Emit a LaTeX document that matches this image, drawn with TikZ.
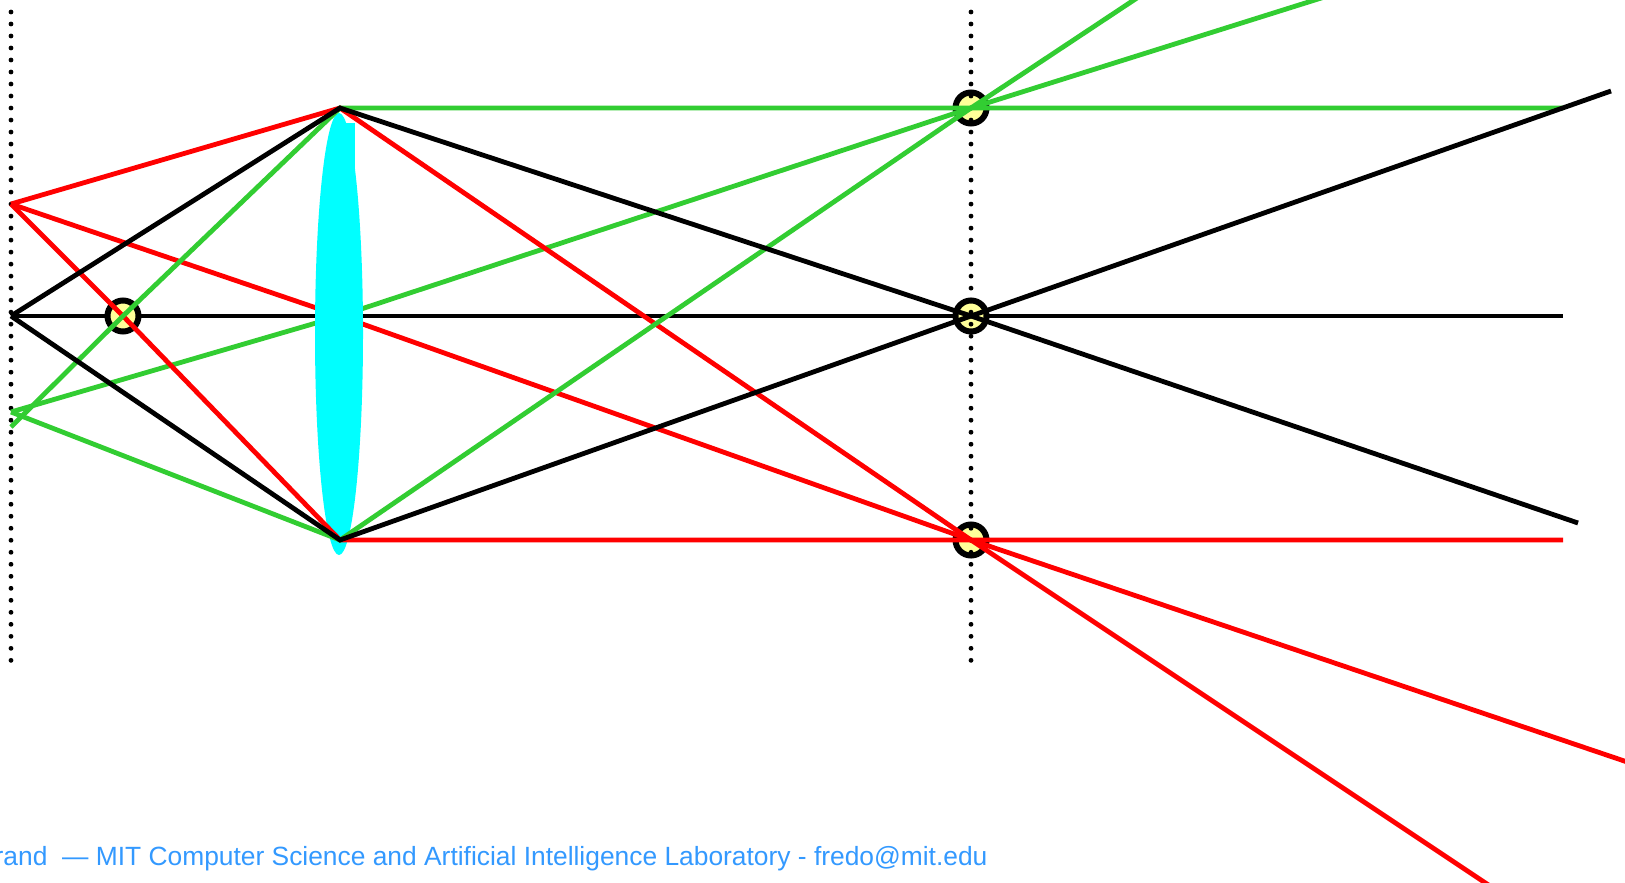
\documentclass[tikz,border=0pt]{standalone}
\usepackage{fontspec}
\setmainfont{Liberation Sans}
\usetikzlibrary{arrows}
\definecolor{raygreen}{RGB}{50,205,50}
\definecolor{lenscyan}{RGB}{0,255,255}
\definecolor{focusyellow}{RGB}{255,255,153}
\definecolor{footblue}{RGB}{51,153,255}

\begin{document}
\begin{tikzpicture}[x=0.01cm,y=-0.01cm,
  ray/.style={line width=0.048cm},
  plane/.style={line width=0.048cm,line cap=round,dash pattern=on 0pt off 0.12cm},
  focus/.style={draw=black,fill=focusyellow,line width=0.06cm}]
  \useasboundingbox (0,0) rectangle (1625,882);
  \clip (0,0) rectangle (1625,882);

  \coordinate (O) at (11,316);
  \coordinate (objR) at (11,204);
  \coordinate (objG) at (11,412);
  \coordinate (objGb) at (11,427);
  \coordinate (F) at (123,316);
  \coordinate (T) at (340,108);
  \coordinate (C) at (340,316);
  \coordinate (B) at (340,540);
  \coordinate (imgG) at (971,108);
  \coordinate (imgC) at (971,316);
  \coordinate (imgR) at (971,540);
  \coordinate (axisEnd) at (1563,316);
  \coordinate (greenEnd) at (1563,108);
  \coordinate (redEnd) at (1563,540);
  \coordinate (greenEndA) at (1143,-6);
  \coordinate (greenEndB) at (1334,-6);
  \coordinate (redEndA) at (1496,890);
  \coordinate (redEndB) at (1645,768);
  \coordinate (blackEndA) at (1578,523);
  \coordinate (blackEndB) at (1611,91);

  \draw[ray] (O) -- (axisEnd);
  \foreach \p in {F,imgG,imgC,imgR}
    \draw[focus] (\p) circle (15.5);
  \foreach \x in {11,971}
    \draw[plane] (\x,12) -- (\x,662);

  \draw[ray,red] (objR) -- (C) -- (imgR) -- (redEndB);
  \draw[ray,raygreen] (objG) -- (C) -- (imgG) -- (greenEndB);

  % lens
  \fill[lenscyan] (339,334) ellipse (24 and 221);
  \fill[lenscyan] (339,123) rectangle (355,200);

  \draw[ray,red] (objR) -- (T) -- (imgR) -- (redEndA);
  \draw[ray,red] (objR) -- (F) -- (B) -- (redEnd);
  \draw[ray,raygreen] (objGb) -- (F) -- (T) -- (greenEnd);
  \draw[ray,raygreen] (objG) -- (B) -- (imgG) -- (greenEndA);
  \draw[ray] (O) -- (T) -- (imgC) -- (blackEndA);
  \draw[ray] (O) -- (B) -- (imgC) -- (blackEndB);

  \node[anchor=base west,inner sep=0,text=footblue,font=\fontsize{7.5}{9}\selectfont] (foot) at (-6,865)
    {rand~~— MIT Computer Science and Artificial Intelligence Laboratory - fredo@mit.edu};
\end{tikzpicture}
\end{document}
